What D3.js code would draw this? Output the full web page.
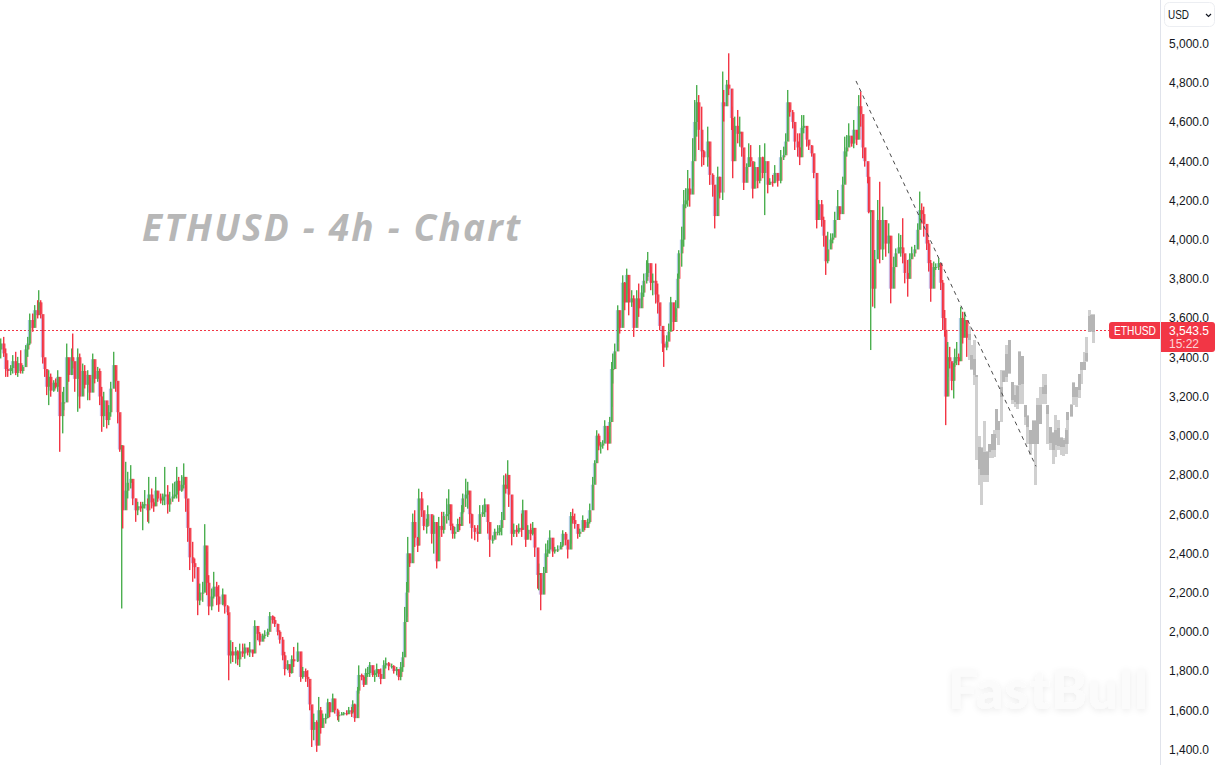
<!DOCTYPE html>
<html><head><meta charset="utf-8">
<script src="https://cdn.jsdelivr.net/npm/d3@7/dist/d3.min.js"></script>
<style>html,body{margin:0;padding:0;background:#fff;overflow:hidden}svg{display:block}</style>
</head><body><svg id="c" width="1220" height="765"></svg>
<script>
const priceTicks=[5000,4800,4600,4400,4200,4000,3800,3600,3400,3200,3000,2800,2600,2400,2200,2000,1800,1600,1400];
const lastPrice=3543.5, lastLabel="3,543.5", countdown="15:22", symbol="ETHUSD", currency="USD";
const titleText="ETHUSD - 4h - Chart", watermark="FastBull";
const firstOpen=3440;
const bars=[
0,3,5,7,10,12,15,17,20,22,
25,27,29,32,34,37,38,40,42,44,
46,48,50,53,55,57,59,62,63,66,
68,71,72,74,77,79,82,84,87,89,
92,94,97,99,101,103,106,108,110,113,
115,117,119,121,122,125,127,130,132,135,
137,140,142,144,147,148,151,153,155,157,
160,162,164,167,169,172,174,176,178,181,
183,185,187,189,192,194,197,199,202,204,
206,208,211,213,216,218,222,224,227,
228,230,232,235,237,239,242,244,247,249,
252,254,257,259,262,264,267,269,272,274,
277,279,282,284,287,289,291,293,297,300,
302,305,307,309,311,313,316,318,320,322,
325,327,329,332,334,337,338,341,343,346,
348,351,352,354,357,358,361,363,365,367,
369,372,374,376,378,380,383,385,388,391,
393,396,398,400,402,404,406,407,409,412,
414,417,418,421,423,426,427,431,433,436,
438,441,443,446,448,450,452,454,457,459,
461,462,465,467,469,471,474,477,479,482,
484,487,489,492,494,497,499,501,503,505,
507,508,511,513,516,518,521,522,525,527,
530,532,534,537,538,540,543,545,547,549,
552,554,557,560,562,565,567,570,572,574,
577,579,582,584,587,589,592,594,596,598,
600,602,604,607,609,611,612,614,617,619,
622,624,626,628,631,633,636,638,641,643,
646,647,650,652,655,657,659,662,663,666,
668,670,673,675,677,678,
681,683,685,687,689,692,694,696,698,701,
703,707,709,712,714,717,719,722,723,726,
728,731,732,734,737,739,741,743,746,748,
750,752,754,757,759,762,764,767,769,772,
774,777,780,783,785,787,789,792,794,797,
799,801,803,806,808,811,813,816,818,821,
823,825,827,830,832,834,837,839,842,844,
846,848,851,853,856,858,860,862,864,867,
868,870,872,874,877,879,882,885,888,890,
893,895,898,900,902,904,907,909,911,914,
917,919,921,923,926,928,930,933,935,938,
940,942,944,
945,947,949,951,953,954,956,958,960,962,
964,966];
const highs=[
3496,3504,3445,3385,3360,3411,3428,3402,3436,3360,
3462,3504,3623,3623,3666,3691,3742,3691,3598,3394,
3334,3334,3317,3283,3292,3334,3207,3224,3249,3470,
3394,3445,3521,3377,3445,3419,3368,3360,3334,3292,
3419,3351,3351,3343,3249,3224,3156,3156,3275,3428,
3334,3275,3105,2952,2950,2867,2816,2850,2765,2680,
2663,2663,2663,2723,2680,2790,2731,2680,2790,2714,
2705,2705,2841,2748,2714,2757,2765,2841,2790,2799,
2859,2748,2612,2527,2459,2374,2272,2246,2255,2549,
2408,2289,2221,2306,2255,2238,2221,2161,2136,
1957,1957,1948,1923,1906,1940,1940,1940,1906,1948,
1906,2059,2016,1999,1991,2008,2016,2101,2084,2076,
2042,2008,1974,1898,1855,1821,1880,1923,1945,1829,
1821,1813,1804,1719,1617,1583,1549,1668,1617,1583,
1583,1659,1642,1685,1651,1608,1591,1591,1591,1600,
1617,1617,1651,1634,1719,1829,1787,1778,1813,1821,
1846,1804,1804,1838,1804,1813,1855,1869,1846,1838,
1830,1821,1796,1846,1898,2127,2254,2484,2382,2603,
2620,2484,2730,2713,2603,2577,2645,2569,2594,2450,
2586,2612,2612,2680,2727,2612,2552,2535,2577,2586,
2646,2705,2781,2765,2671,2603,2544,2544,2646,2646,
2680,2637,2552,2492,2526,2544,2544,2611,2798,2807,
2875,2790,2671,2552,2544,2552,2603,2674,2552,2544,
2552,2560,2484,2416,2348,2271,2331,2450,2467,2518,
2450,2433,2441,2458,2518,2509,2458,2611,2628,2603,
2535,2526,2594,2560,2577,2654,2790,2875,3028,3011,
2968,2977,3079,3019,3096,3376,3419,3470,3665,3597,
3818,3784,3852,3750,3742,3716,3742,3776,3767,3827,
3895,3937,3861,3827,3878,3776,3657,3555,3512,3512,
3572,3708,3657,3691,3827,3946,
4066,4253,4262,4355,4313,4517,4712,4788,4737,4678,
4457,4576,4423,4338,4210,4372,4321,4857,4763,4814,
4950,4678,4559,4627,4661,4627,4542,4431,4389,4491,
4482,4389,4397,4355,4482,4423,4491,4321,4313,4330,
4380,4330,4457,4474,4542,4763,4686,4661,4584,4542,
4542,4635,4635,4576,4500,4482,4423,4210,4202,4202,
4117,4015,4040,4032,4032,4142,4253,4151,4321,4525,
4533,4593,4525,4610,4559,4737,4755,4576,4466,4389,
4321,4151,3862,3947,4202,4295,4168,4100,4083,3879,
3913,3955,4032,4024,4109,3888,3896,3930,3964,3973,
4083,4245,4185,4168,4049,3998,3896,3888,3879,3905,
3879,3794,3641,
3470,3478,3453,3368,3360,3444,3478,3419,3657,3632,
3632,3521];
const lows=[
3394,3402,3300,3300,3309,3317,3309,3300,3317,3317,
3360,3402,3462,3530,3581,3598,3649,3598,3368,3300,
3207,3156,3199,3224,3241,3224,2918,3012,3130,3258,
3275,3309,3343,3224,3122,3139,3207,3241,3181,3181,
3292,3267,3275,3156,3020,3045,3037,3054,3097,3275,
3224,3063,2918,2119,2527,2629,2680,2731,2646,2561,
2595,2612,2518,2629,2561,2553,2629,2612,2680,2663,
2654,2646,2646,2603,2612,2663,2680,2680,2663,2714,
2731,2612,2459,2315,2255,2272,2085,2136,2153,2340,
2187,2085,2110,2170,2136,2102,2136,2093,2085,
1753,1838,1846,1838,1830,1821,1872,1863,1880,1872,
1872,1965,1957,1931,1957,1965,1974,2042,2042,2025,
1982,1940,1855,1778,1804,1770,1787,1821,1846,1745,
1761,1745,1719,1600,1413,1447,1388,1447,1481,1532,
1532,1583,1566,1600,1583,1549,1541,1574,1574,1574,
1583,1566,1583,1541,1617,1685,1753,1719,1736,1770,
1770,1770,1745,1770,1770,1733,1787,1813,1804,1813,
1787,1778,1753,1753,1796,1872,2076,2212,2331,2407,
2433,2407,2569,2586,2518,2501,2552,2450,2399,2323,
2484,2484,2501,2552,2569,2518,2475,2475,2509,2518,
2569,2603,2637,2628,2552,2475,2467,2459,2501,2586,
2586,2501,2382,2450,2484,2492,2492,2492,2637,2705,
2739,2637,2441,2484,2484,2501,2484,2569,2433,2475,
2467,2492,2382,2220,2212,2110,2195,2314,2382,2399,
2382,2399,2407,2424,2433,2441,2374,2450,2552,2526,
2475,2484,2526,2518,2543,2552,2671,2790,2875,2926,
2909,2934,2977,2926,3045,3147,3266,3342,3478,3521,
3563,3640,3725,3614,3657,3504,3572,3606,3691,3708,
3776,3810,3742,3716,3674,3623,3538,3427,3351,3436,
3487,3538,3538,3606,3657,3827,
3862,3964,4160,4168,4168,4270,4423,4525,4457,4372,
4380,4372,4279,4219,4057,4219,4210,4202,4602,4729,
4737,4559,4313,4414,4491,4474,4423,4253,4338,4372,
4372,4210,4295,4262,4287,4313,4125,4236,4279,4270,
4287,4270,4287,4406,4440,4559,4627,4567,4457,4423,
4380,4474,4542,4474,4457,4423,4313,4057,4117,4066,
3964,3820,3879,3972,3981,4032,4117,4100,4151,4287,
4423,4474,4474,4466,4482,4559,4576,4415,4372,4287,
4134,3437,3658,3650,3947,3879,3896,3913,3930,3675,
3828,3862,3930,3913,3879,3777,3709,3862,3913,3913,
3964,4083,4083,4015,3947,3837,3683,3811,3845,3845,
3743,3539,3505,
3054,3300,3343,3232,3190,3351,3360,3360,3436,3470,
3530,3402];
const closes=[
3470,3420,3340,3330,3345,3380,3320,3370,3330,3350,
3440,3470,3590,3550,3640,3615,3680,3620,3400,3340,
3250,3300,3230,3270,3250,3300,3100,3170,3170,3400,
3310,3400,3380,3290,3400,3200,3330,3260,3310,3220,
3390,3290,3330,3200,3100,3180,3080,3120,3240,3360,
3280,3120,2930,2950,2620,2720,2760,2780,2680,2620,
2640,2630,2650,2650,2620,2700,2660,2640,2720,2680,
2670,2690,2700,2650,2680,2690,2700,2770,2720,2750,
2790,2680,2530,2380,2350,2330,2160,2200,2200,2440,
2250,2130,2180,2230,2180,2140,2190,2130,2100,
1880,1900,1880,1900,1860,1900,1890,1920,1895,1910,
1890,2030,1990,1950,1980,1985,2000,2080,2060,2040,
2000,1960,1880,1810,1835,1790,1860,1850,1900,1770,
1800,1770,1760,1630,1500,1540,1420,1600,1510,1560,
1560,1640,1590,1660,1600,1570,1575,1580,1585,1580,
1600,1590,1630,1560,1700,1780,1770,1730,1790,1790,
1830,1780,1790,1810,1785,1760,1830,1840,1825,1825,
1800,1810,1770,1820,1870,2050,2200,2400,2350,2560,
2480,2440,2680,2620,2540,2540,2600,2500,2560,2360,
2540,2520,2590,2600,2650,2540,2500,2510,2550,2540,
2610,2680,2700,2720,2600,2530,2510,2500,2600,2610,
2650,2560,2470,2470,2510,2510,2530,2570,2750,2730,
2800,2700,2500,2520,2510,2530,2520,2620,2470,2520,
2500,2530,2430,2290,2300,2190,2300,2400,2420,2480,
2410,2420,2420,2440,2500,2470,2420,2590,2570,2550,
2500,2510,2570,2530,2560,2620,2750,2860,3000,2950,
2950,2960,3050,2960,3070,3340,3340,3430,3640,3550,
3780,3680,3820,3680,3700,3550,3700,3650,3730,3790,
3830,3880,3780,3790,3720,3680,3560,3470,3450,3480,
3530,3680,3580,3650,3800,3930,
4000,4180,4200,4260,4230,4400,4600,4700,4560,4450,
4420,4500,4330,4280,4120,4320,4240,4700,4680,4790,
4770,4620,4400,4580,4540,4550,4470,4290,4370,4420,
4400,4260,4370,4300,4420,4340,4400,4280,4295,4290,
4340,4300,4420,4430,4500,4700,4650,4600,4500,4470,
4420,4570,4580,4510,4480,4440,4340,4100,4180,4100,
4020,3890,3950,4000,4010,4100,4170,4130,4280,4450,
4470,4530,4490,4560,4510,4680,4640,4470,4400,4320,
4140,4150,3750,3900,4100,3950,4100,3980,4020,3750,
3860,3930,3960,3960,3930,3830,3800,3900,3930,3950,
4050,4150,4130,4080,3980,3880,3750,3860,3860,3880,
3780,3600,3540,
3200,3400,3380,3280,3370,3400,3400,3380,3600,3500,
3590,3500];
const ghostBars=[969,971,974,976,979,981,984,987,989,992,994,996,998,1001,1003,1006,1009,1012,1015,1017,1019,1022,1025,1027,1030,1033,1035,1037,1040,1043,1045,1047,1050,1053,1055,1058,1061,1063,1066,1067,1071,1073,1076,1079,1081,1084,1086,1089,1091,1093];
const ghostHighs=[3558,3461,3487,3308,3001,2943,3076,2921,2960,3008,3028,3138,3076,3334,3334,3461,3487,3274,3257,3257,3431,3407,3156,3105,3028,3079,3079,3190,3249,3314,3314,3156,3045,3020,3105,3079,2994,2986,3037,3122,3164,3274,3249,3317,3376,3427,3504,3643,3620,3620];
const ghostLows=[3385,3334,3257,2875,2748,2645,2765,2765,2884,2884,2892,2986,2951,3070,3274,3274,3317,3164,3147,3138,3164,3164,3054,2960,2900,2960,2748,2960,3062,3164,3164,2960,2926,2858,2892,2926,2900,2897,2909,2960,3096,3156,3147,3190,3266,3334,3376,3530,3530,3473];
const ghostBodyTops=[3521,3410,3393,3308,2940,2935,2917,2917,2960,3008,3008,3138,3076,3249,3331,3419,3487,3274,3206,3254,3427,3407,3156,3099,3028,3076,3076,3156,3156,3249,3257,3156,3042,3014,3028,3037,2986,2980,3031,3122,3156,3269,3249,3314,3376,3376,3422,3609,3614,3614];
const ghostBodyBottoms=[3487,3342,3308,3297,2832,2798,2798,2798,2917,2926,2929,3028,3031,3198,3274,3300,3320,3181,3172,3164,3257,3263,3096,3045,2957,2960,2960,2960,3062,3212,3212,3110,2963,2926,2951,2946,2943,2943,2960,3082,3099,3195,3195,3232,3337,3337,3382,3530,3535,3530];
const trendBars=[856,1036], trendPrices=[4809,2844];

const UP="#4caf50", DOWN="#f23645";
const svg=d3.select("#c");
const x=d3.scaleLinear().domain([0,1160]).range([0,1160]);
const y=d3.scaleLinear().domain([1400,5000]).range([749.5,43.5]);
const sx=v=>x(v);

// title and watermark
svg.append("text").attr("x",142).attr("y",241).attr("font-family","'Open Sans',sans-serif")
  .attr("font-size",37).attr("font-weight",700).attr("font-style","italic").attr("letter-spacing",2.2)
  .attr("fill","#b7b7b7").text(titleText);
const defs=svg.append("defs");
const f=defs.append("filter").attr("id","wmShadow").attr("x","-10%").attr("y","-30%").attr("width","120%").attr("height","170%");
f.append("feDropShadow").attr("dx",0).attr("dy",2).attr("stdDeviation",3).attr("flood-color","#000").attr("flood-opacity",.08);
svg.append("text").attr("x",948).attr("y",709).attr("font-family","'Lato',sans-serif").attr("font-size",53).attr("font-weight",900)
  .attr("letter-spacing",1.6).attr("fill","#fbfbfb").attr("filter","url(#wmShadow)").text(watermark);

// last-price line (under candles)
const ly=Math.ceil(y(lastPrice));
svg.append("line").attr("x1",0).attr("x2",1109).attr("y1",ly+.5).attr("y2",ly+.5)
  .attr("stroke",DOWN).attr("stroke-width",1).attr("stroke-dasharray","2,2");

// candles: green first so the red ones lie on top
const candles=bars.map((b,i)=>({b,h:highs[i],l:lows[i],c:closes[i],o:i?closes[i-1]:firstOpen}));
const ordered=candles.slice().sort((p,q)=>(p.c<p.o)-(q.c<q.o));
const plot=svg.append("g");
const bodyBox=d=>[y(Math.max(d.o,d.c)),Math.max(1,Math.abs(y(d.o)-y(d.c)))];
plot.selectAll("rect.pink").data(candles).join("rect").attr("x",d=>sx(d.b)+1.2).attr("width",1.8)
  .attr("y",d=>bodyBox(d)[0]).attr("height",d=>bodyBox(d)[1]).attr("fill",DOWN).attr("opacity",.42);
plot.selectAll("rect.blue").data(candles).join("rect").attr("x",d=>sx(d.b)-1.2).attr("width",1.6)
  .attr("y",d=>bodyBox(d)[0]).attr("height",d=>bodyBox(d)[1]).attr("fill","#2962ff").attr("opacity",.28);
plot.selectAll("rect.wick").data(ordered).join("rect").attr("x",d=>sx(d.b)).attr("width",1.4)
  .attr("y",d=>y(d.h)).attr("height",d=>y(d.l)-y(d.h)).attr("fill",d=>d.c>=d.o?UP:DOWN);
plot.selectAll("rect.body").data(ordered.filter(d=>Math.abs(d.c-d.o)<420)).join("rect").attr("x",d=>sx(d.b)-.2).attr("width",2)
  .attr("y",d=>bodyBox(d)[0]).attr("height",d=>bodyBox(d)[1]).attr("fill",d=>d.c>=d.o?UP:DOWN);

// ghost projection
const ghost=ghostBars.map((b,i)=>({b,h:ghostHighs[i],l:ghostLows[i],t:ghostBodyTops[i],u:ghostBodyBottoms[i]}));
const gg=svg.append("g").attr("shape-rendering","crispEdges");
gg.selectAll("rect.w").data(ghost).join("rect").attr("x",d=>sx(d.b)-1).attr("width",3)
  .attr("y",d=>y(d.h)).attr("height",d=>y(d.l)-y(d.h)).attr("fill","#d0d0d0");
gg.selectAll("rect.b").data(ghost).join("rect").attr("x",d=>sx(d.b)-1).attr("width",3)
  .attr("y",d=>y(d.t)).attr("height",d=>Math.max(1,y(d.u)-y(d.t))).attr("fill","#b5b5b5");

// trend line
svg.append("line").attr("x1",x(trendBars[0])).attr("y1",y(trendPrices[0])).attr("x2",x(trendBars[1])).attr("y2",y(trendPrices[1]))
  .attr("stroke","#4a4a4a").attr("stroke-width",1).attr("stroke-dasharray","4,4");

// price axis
svg.append("rect").attr("x",1161).attr("y",0).attr("width",59).attr("height",765).attr("fill","#fff");
svg.append("line").attr("x1",1160.5).attr("x2",1160.5).attr("y1",0).attr("y2",765).attr("stroke","#e0e3eb");
const axis=d3.axisRight(y).tickValues(priceTicks).tickSize(0).tickPadding(8).tickFormat(d3.format(",.1f"));
const ag=svg.append("g").attr("transform","translate(1161,0)").call(axis);
ag.select(".domain").remove();
ag.selectAll("text").attr("font-family","'Liberation Sans',Arial,sans-serif").attr("font-size",12).attr("fill","#131722");

// currency button
svg.append("rect").attr("x",1164.5).attr("y",2.5).attr("width",50).attr("height",24).attr("rx",5).attr("fill","#fff").attr("stroke","#eceef2");
svg.append("text").attr("x",1168).attr("y",19).attr("font-family","'Liberation Sans',Arial,sans-serif").attr("font-size",12).attr("textLength",21).attr("lengthAdjust","spacingAndGlyphs").attr("fill","#131722").text(currency);
svg.append("path").attr("d",d3.line()([[1206,14],[1208.5,16.5],[1211,14]])).attr("fill","none").attr("stroke","#131722").attr("stroke-width",1.2);

// price labels
const r=3;
svg.append("path").attr("d",`M${1109+r},${ly-8}H1160V${ly+9}H${1109+r}Q1109,${ly+9} 1109,${ly+9-r}V${ly-8+r}Q1109,${ly-8} ${1109+r},${ly-8}Z`).attr("fill",DOWN);
svg.append("text").attr("x",1114).attr("y",ly+5).attr("font-family","'Liberation Sans',Arial,sans-serif").attr("font-size",12).attr("textLength",42).attr("lengthAdjust","spacingAndGlyphs").attr("fill","#fff").text(symbol);
svg.append("path").attr("d",`M1161,${ly-8}H${1215-r}Q1215,${ly-8} 1215,${ly-8+r}V${ly+22-r}Q1215,${ly+22} ${1215-r},${ly+22}H1161Z`).attr("fill",DOWN);
svg.append("text").attr("x",1169).attr("y",ly+5).attr("font-family","'Liberation Sans',Arial,sans-serif").attr("font-size",12).attr("fill","#fff").text(lastLabel);
svg.append("text").attr("x",1169).attr("y",ly+18).attr("font-family","'Liberation Sans',Arial,sans-serif").attr("font-size",12).attr("fill","#fff").attr("fill-opacity",.8).text(countdown);
</script></body></html>
